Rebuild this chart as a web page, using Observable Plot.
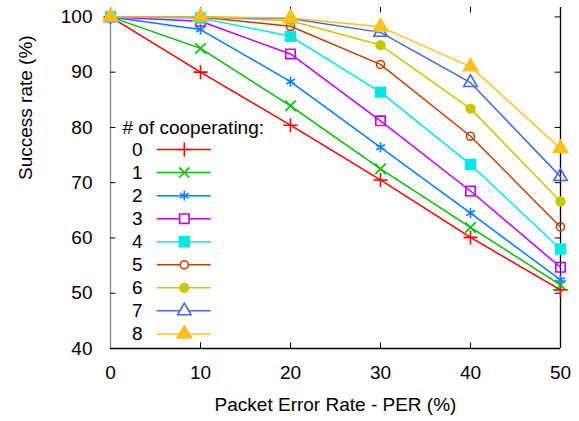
<!DOCTYPE html>
<html><head><meta charset="utf-8">
<script src="https://cdn.jsdelivr.net/npm/d3@7"></script>
<script src="https://cdn.jsdelivr.net/npm/@observablehq/plot@0.6"></script>
<style>body{margin:0;background:#fff}#chart{position:absolute;left:0;top:0}</style>
</head><body><div id="chart"></div>
<script>
// ---- data ----
const per = [0, 10, 20, 30, 40, 50];
const seriesNames = ["0", "1", "2", "3", "4", "5", "6", "7", "8"];
const s0 = [100, 90.0, 80.4, 70.5, 60.1, 50.6];
const s1 = [100, 94.3, 83.9, 72.5, 61.9, 51.5];
const s2 = [100, 97.7, 88.3, 76.4, 64.5, 52.4];
const s3 = [100, 99.2, 93.3, 81.2, 68.5, 54.7];
const s4 = [100, 99.8, 96.5, 86.4, 73.3, 58.0];
const s5 = [100, 100, 98.3, 91.4, 78.4, 62.0];
const s6 = [100, 100, 99.3, 94.9, 83.4, 66.6];
const s7 = [100, 100, 99.7, 97.2, 88.1, 71.1];
const s8 = [100, 100, 99.8, 98.2, 91.0, 76.2];
const seriesValues = [s0, s1, s2, s3, s4, s5, s6, s7, s8];
const xTicks = [0, 10, 20, 30, 40, 50];
const yTicks = [40, 50, 60, 70, 80, 90, 100];
const xLabel = "Packet Error Rate - PER (%)";
const yLabel = "Success rate (%)";
const legendTitle = "# of cooperating:";

// ---- styles ----
const colors = ["#ff0000", "#00c000", "#0080ff", "#c000ff", "#00e8e8", "#c04000", "#c8c800", "#4169e1", "#ffc020"];
const symbols = ["plus", "times", "asterisk", "square", "square", "circle", "circle", "triangle", "triangle"];
const filled = [false, false, false, false, true, false, true, false, true];
const symR = [4.6, 4.8, 4.8, 5.3, 5.5, 4.0, 4.4, 5.0, 5.3];

const yTop = 101.7;
const rows = [];
seriesValues.forEach((vals, i) => per.forEach((p, j) => rows.push({s: i, x: p, y: vals[j]})));

// legend layout (in data units)
const legTitleY = 80.0, legY0 = 76.0, legStep = 4.17;
const legend = seriesNames.map((n, i) => ({s: i, name: n, y: legY0 - i * legStep}));

const marks = [];
// frame
marks.push(Plot.ruleX([0], {y1: 40, y2: yTop, stroke: "#888", strokeWidth: 1.3}));
marks.push(Plot.ruleX([50], {y1: 40, y2: yTop, stroke: "#000", strokeWidth: 1.3}));
marks.push(Plot.ruleY([40], {x1: 0, x2: 50, stroke: "#000", strokeWidth: 1.3}));
// inward ticks
marks.push(Plot.ruleY(yTicks.filter(t => t > 40), {x1: 0, x2: 0.6, stroke: "#000"}));
marks.push(Plot.ruleY(yTicks.filter(t => t > 40), {x1: 49.4, x2: 50, stroke: "#000"}));
marks.push(Plot.ruleX(xTicks.filter(t => t > 0 && t < 50), {y1: 40, y2: 41, stroke: "#000"}));
marks.push(Plot.ruleX(xTicks.filter(t => t > 0 && t < 50), {y1: yTop - 1, y2: yTop, stroke: "#000"}));
// axes labels
marks.push(Plot.axisY({ticks: yTicks, tickSize: 0, tickPadding: 18, label: null, fontSize: 19}));
marks.push(Plot.axisX({ticks: xTicks, tickSize: 0, tickPadding: 17, label: null, fontSize: 19}));
marks.push(Plot.text([xLabel], {frameAnchor: "bottom", dy: 56, lineAnchor: "middle", fontSize: 19}));
marks.push(Plot.text([yLabel], {frameAnchor: "left", rotate: -90, dx: -85, dy: 2, lineAnchor: "middle", fontSize: 19}));

// series
seriesValues.forEach((vals, i) => {
  const d = rows.filter(r => r.s === i);
  marks.push(Plot.line(d, {x: "x", y: "y", stroke: colors[i], strokeWidth: 1.5}));
  marks.push(Plot.dot(d, {x: "x", y: "y", symbol: () => symbols[i], r: symR[i],
    stroke: colors[i], strokeWidth: 1.6, fill: filled[i] ? colors[i] : "none"}));
});

// legend
marks.push(Plot.text([legendTitle], {x: 1.33, y: legTitleY, textAnchor: "start", lineAnchor: "middle", fontSize: 19}));
marks.push(Plot.text(legend, {x: 3.56, y: "y", text: "name", textAnchor: "end", lineAnchor: "middle", fontSize: 19}));
legend.forEach((l, i) => {
  marks.push(Plot.ruleY([l], {y: "y", x1: 5.2, x2: 11.2, stroke: colors[i], strokeWidth: 1.5}));
  marks.push(Plot.dot([l], {x: 8.2, y: "y", symbol: () => symbols[i], r: symR[i],
    stroke: colors[i], strokeWidth: 1.6, fill: filled[i] ? colors[i] : "white"}));
});

const chart = Plot.plot({
  width: 579, height: 421,
  marginLeft: 110, marginRight: 19, marginTop: 7, marginBottom: 73,
  style: {fontFamily: "'Liberation Sans', Arial, Helvetica, sans-serif", fontSize: "19px", color: "#000", background: "#fff", overflow: "visible"},
  x: {domain: [0, 50]},
  y: {domain: [40, yTop]},
  marks
});
document.getElementById("chart").appendChild(chart);
</script>
</body></html>
